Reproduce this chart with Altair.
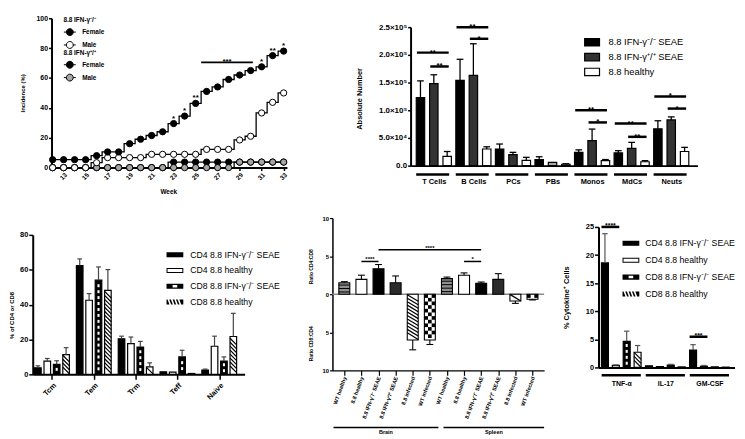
import json
import altair as alt
import pandas as pd

W, H = 737, 431
FONT = "Liberation Sans"

# ======================= DATA =======================
# --- panel a: incidence by week ---
weeks = [12, 13, 14, 15, 16, 17, 18, 19, 20, 21, 22, 23, 24, 25, 26, 27, 28, 29, 30, 31, 32, 33]
inc_female_ko = [5.3, 5.3, 5.3, 5.3, 8.0, 10.5, 10.5, 16.0, 19.0, 21.5, 24.0, 29.5, 34.5, 43.0, 51.0, 54.0, 59.0, 62.0, 65.0, 67.5, 75.0, 78.0]
inc_male_ko = [0, 0, 0, 0, 3.3, 6.7, 6.7, 6.7, 6.7, 8.9, 8.9, 8.9, 8.9, 8.9, 12.2, 12.2, 12.2, 18.5, 21.0, 36.6, 43.7, 50.0]
inc_female_wt = [0, 0, 0, 0, 0, 0, 0, 0, 0, 0, 0, 3.7, 3.7, 3.7, 3.7, 3.7, 3.7, 3.7, 3.7, 3.7, 3.7, 3.7]
inc_male_wt = [0, 0, 0, 0, 0, 0, 0, 0, 0, 0, 0, 0, 0, 0, 0, 0, 0, 3.7, 3.7, 3.7, 3.7, 3.7]
a_sexes = ["Female", "Male"]
a_star_weeks = [23, 24, 25, 31, 32, 33]
a_star_text = ["*", "*", "**", "*", "**", "*"]
a_bracket_weeks = [25.5, 30.2]
a_bracket_value = 70.4
a_bracket_text = "***"
a_week_ticks = [13, 15, 17, 19, 21, 23, 25, 27, 29, 31, 33]
a_pct_ticks = [0, 20, 40, 60, 80, 100]

# --- panel b: absolute numbers ---
b_groups = ["T Cells", "B Cells", "PCs", "PBs", "Monos", "MdCs", "Neuts"]
b_series = ["8.8 IFN-γ⁻/⁻ SEAE", "8.8 IFN-γ⁺/⁺ SEAE", "8.8 healthy"]
b_ko = [123000, 154000, 30000, 11000, 24000, 23000, 66500]
b_ko_upper = [153000, 192000, 39000, 16000, 28500, 27000, 81000]
b_wt = [148000, 163000, 20000, 6000, 45000, 31000, 82500]
b_wt_upper = [164000, 220000, 24000, 6000, 66000, 42000, 88000]
b_healthy = [16600, 30000, 9500, 2500, 9000, 7000, 25500]
b_healthy_upper = [25500, 34000, 15000, 3500, 11000, 9000, 33000]
b_yticks = [0, 50000, 100000, 150000, 200000, 250000]
b_ytick_labels = ["0.0", "5.0×10⁴", "1.0×10⁵", "1.5×10⁵", "2.0×10⁵", "2.5×10⁵"]
b_sig_group = [0, 0, 1, 1, 4, 4, 5, 5, 6, 6]
b_sig_from = [0, 1, 0, 1, 0, 1, 0, 1, 0, 1]
b_sig_to = [2, 2, 2, 2, 2, 2, 2, 2, 2, 2]
b_sig_value = [204000, 179000, 250000, 229000, 100000, 78000, 76000, 52000, 125000, 103000]
b_sig_text = ["**", "**", "**", "*", "**", "*", "**", "**", "*", "*"]

# --- panel c: memory subsets ---
c_groups = ["Tcm", "Tem", "Trm", "Teff", "Naive"]
c_series = ["CD4 8.8 IFN-γ⁻/⁻ SEAE", "CD4 8.8 healthy", "CD8 8.8 IFN-γ⁻/⁻ SEAE", "CD8 8.8 healthy"]
c_cd4_ko = [3.8, 62.4, 20.4, 1.5, 2.5]
c_cd4_ko_upper = [4.9, 66.2, 21.9, 1.5, 3.0]
c_cd4_healthy = [7.6, 42.5, 17.6, 1.3, 16.1]
c_cd4_healthy_upper = [9.1, 46.3, 21.4, 1.3, 21.9]
c_cd8_ko = [5.7, 54.0, 15.7, 10.0, 7.6]
c_cd8_ko_upper = [7.8, 61.6, 18.9, 13.8, 10.0]
c_cd8_healthy = [11.3, 48.2, 4.3, 0.5, 21.7]
c_cd8_healthy_upper = [15.3, 60.1, 6.6, 0.5, 35.0]
c_yticks = [0, 20, 40, 60, 80]

# --- panel d: CD4:CD8 ratios ---
d_conditions = ["WT healthy", "8.8 healthy", "8.8 IFN-γ⁻/⁻ SEAE", "8.8 IFN-γ⁺/⁺ SEAE", "8.8 infected", "WT infected"]
d_tissues = ["Brain", "Spleen"]
d_brain = [1.5, 1.95, 3.35, 1.5, -6.0, -6.0]
d_brain_end = [1.65, 2.5, 3.9, 2.4, -7.3, -6.6]
d_spleen = [2.05, 2.5, 1.45, 1.95, -0.9, -0.65]
d_spleen_end = [2.25, 2.8, 1.6, 2.7, -1.2, -0.75]
d_yticks = [-10, -5, 0, 5, 10]
d_sig_from = [2, 1, 7]
d_sig_to = [8, 2, 8]
d_sig_value = [5.84, 4.3, 4.3]
d_sig_text = ["****", "****", "*"]
d_axis_titles = ["Ratio CD4:CD8", "Ratio CD8:CD4"]
d_axis_title_y = [3.6, -6.5]

# --- panel e: cytokines ---
e_groups = ["TNF-α", "IL-17", "GM-CSF"]
e_cd4_ko = [18.6, 0.3, 3.1]
e_cd4_ko_upper = [23.8, 0.3, 4.05]
e_cd4_healthy = [0.35, 0.15, 0.2]
e_cd4_healthy_upper = [0.45, 0.15, 0.35]
e_cd8_ko = [4.65, 0.4, 0.1]
e_cd8_ko_upper = [6.45, 0.55, 0.1]
e_cd8_healthy = [2.7, 0.1, 0.05]
e_cd8_healthy_upper = [3.9, 0.1, 0.05]
e_yticks = [0, 5, 10, 15, 20, 25]
e_sig_group = [0, 2]
e_sig_from = [0, 0]
e_sig_to = [1, 1]
e_sig_value = [25.0, 5.46]
e_sig_text = ["****", "***"]

# ======================= HELPERS =======================
A_SYM = "M-1,0H-0.58A0.58,0.58,0,0,1,0.58,0H1M0.58,0A0.58,0.58,0,0,1,-0.58,0"
RECT_B = "M-1,-0.5H1V0.5H-1Z"
RECT_C = "M-2,-0.6H2V0.6H-2Z"
FRAME_C = RECT_C + "M-1.76,-0.36V0.36H1.76V-0.36Z"
HOLE_C = RECT_C + "M-0.55,-0.3V0.3H0.55V-0.3Z"
HATCH_C = RECT_C + "".join(
    f"M{a:.2f},-0.6L{a + 0.45:.2f},0.6L{a + 0.85:.2f},0.6L{a + 0.4:.2f},-0.6Z" for a in (-1.75, -0.95, -0.15, 0.65))
BACKSLASH = "M-1,-1L1,1"
BACKSLASH_FLAT = "M-1,-0.6L1,0.6"
HLINE = "M-1,0H1"
DASH = "M-0.7,-1H0.7V1H-0.7Z"


def lin(domain, rng):
    return alt.Scale(domain=domain, range=rng, nice=False, zero=False)


def mk(scale, axis, ch):
    def f(field):
        return ch(field=field, type="quantitative", scale=scale, axis=axis)
    return f


def ys_inside(a, b, ppu, step, margin):
    lo, hi = min(a, b), max(a, b)
    span = (hi - lo) * ppu - 2 * margin
    if span < 0:
        return []
    n = int(span // step) + 1
    first = lo + (margin + (span - (n - 1) * step) / 2) / ppu
    return [first + k * step / ppu for k in range(n)]


def grouped(n_groups, series, means, uppers, gstep, hw, cap):
    rows = []
    for g in range(n_groups):
        for i, s in enumerate(series):
            xc = g * gstep + i
            rows.append(dict(g=g, i=i, s=s, xc=xc, x0=xc - hw, x1=xc + hw,
                             c0=xc - cap, c1=xc + cap, v=means[i][g], e=uppers[i][g], b=0.0))
    return pd.DataFrame(rows)


def bar_layers(df, X, Y, color, stroke_w, err_color, err_w=1.2):
    bars = alt.Chart(df).mark_rect(stroke="black", strokeWidth=stroke_w).encode(
        x=X("x0"), x2=alt.X2("x1"), y=Y("b"), y2=alt.Y2("v"), color=color)
    ed = df[df.e != df.v]
    err = alt.Chart(ed).mark_rule(color=err_color, strokeWidth=err_w).encode(
        x=X("xc"), y=Y("v"), y2=alt.Y2("e"))
    cap = alt.Chart(ed).mark_rule(color=err_color, strokeWidth=err_w).encode(
        x=X("c0"), x2=alt.X2("c1"), y=Y("e"))
    return [bars, err, cap]


def pts_layer(rows, X, Y, **mark):
    return alt.Chart(pd.DataFrame(rows, columns=["px", "py"])).mark_point(opacity=1, **mark).encode(
        x=X("px"), y=Y("py"))


def sig_layers(df, X, Y, width, fsize, dy):
    line = alt.Chart(df).mark_rule(color="black", strokeWidth=width).encode(
        x=X("l0"), x2=alt.X2("l1"), y=Y("v"))
    txt = alt.Chart(df).mark_text(font=FONT, fontSize=fsize, fontWeight="bold", baseline="alphabetic",
                                  dy=dy, color="black").encode(x=X("m"), y=Y("v"), text="t:N")
    return [line, txt]


def pattern_legend(x, y, row_pad, label_off, fsize):
    leg = alt.Legend(orient="none", legendX=x, legendY=y, direction="vertical", title=None,
                     labelFont=FONT, labelFontSize=fsize, labelFontWeight="normal", labelColor="black",
                     symbolSize=72, symbolStrokeColor="black", symbolStrokeWidth=0,
                     rowPadding=row_pad, labelOffset=label_off, padding=0)
    return alt.Chart(alt.Data(values=[])).mark_point(filled=True, opacity=1, size=72, strokeWidth=0).encode(
        fill=alt.Fill("s:N", scale=alt.Scale(domain=c_series, range=["black", "black", "black", "black"]),
                      legend=leg),
        shape=alt.Shape("s:N", scale=alt.Scale(domain=c_series, range=[RECT_C, FRAME_C, HOLE_C, HATCH_C]),
                        legend=leg))


# ======================= PANEL A =======================
a_xs = lin([11.9, 33.3], [44, 282])
a_ys = lin([0, 100], [159, 8])
a_xax = alt.Axis(orient="bottom", offset=159 - H, values=a_week_ticks, labelAngle=-45, labelFontSize=6.5,
                 tickSize=3, tickWidth=1.5, domainWidth=2, labelPadding=1, title="Week", titleFontSize=6.5,
                 titleX=162, titleY=24, titleBaseline="middle", titleAlign="center")
a_yax = alt.Axis(orient="left", offset=-44, values=a_pct_ticks, labelFontSize=7, tickSize=3, tickWidth=1.5,
                 domainWidth=2, labelPadding=1, title="Incidence (%)", titleFontSize=6, titleX=-29, titleY=83.5,
                 titleBaseline="middle", titleAlign="center", titleAngle=270)
aX = mk(a_xs, a_xax, alt.X)
aY = mk(a_ys, a_yax, alt.Y)

series_a = [("fwt", inc_female_wt, "black"), ("mwt", inc_male_wt, "#a6a6a6"),
            ("mko", inc_male_ko, "white"), ("fko", inc_female_ko, "black")]
inc = pd.DataFrame([dict(week=w, v=v, s=name) for name, vals, _ in series_a for w, v in zip(weeks, vals)])
a_layers = [alt.Chart(inc).mark_line(interpolate="step", color="black", strokeWidth=1.3).encode(
    x=aX("week"), y=aY("v"), detail="s:N")]
for name, vals, col in series_a:
    a_layers.append(alt.Chart(inc[inc.s == name]).mark_point(
        shape="circle", filled=True, fill=col, stroke="black", strokeWidth=1, size=40, opacity=1).encode(
        x=aX("week"), y=aY("v")))
a_st = pd.DataFrame(dict(week=a_star_weeks, v=[inc_female_ko[weeks.index(w)] for w in a_star_weeks], t=a_star_text))
a_layers.append(alt.Chart(a_st).mark_text(font=FONT, fontSize=8, fontWeight="bold", baseline="alphabetic", dy=-3,
                                          color="black").encode(x=aX("week"), y=aY("v"), text="t:N"))
a_br = pd.DataFrame(dict(l0=[a_bracket_weeks[0]], l1=[a_bracket_weeks[1]], m=[sum(a_bracket_weeks) / 2],
                         v=[a_bracket_value], t=[a_bracket_text]))
a_layers += sig_layers(a_br, aX, aY, 1.8, 8, 2)


def a_legend(title, y, colors):
    leg = alt.Legend(orient="none", legendX=56, legendY=y, direction="vertical", title=title, titleFont=FONT,
                     titleFontSize=6.5, titleFontWeight="bold", titlePadding=2, titleColor="black",
                     labelFont=FONT, labelFontSize=6.5, labelFontWeight="bold", labelColor="black",
                     symbolType=A_SYM, symbolSize=144, symbolStrokeColor="black", symbolStrokeWidth=1,
                     rowPadding=1, labelOffset=6, padding=0)
    return alt.Chart(alt.Data(values=[])).mark_point(filled=True, opacity=1, stroke="black", strokeWidth=1,
                                                    size=144).encode(
        fill=alt.Fill("k:N", scale=alt.Scale(domain=a_sexes, range=colors), legend=leg))


a_layers.append(a_legend("8.8 IFN-γ⁻/⁻", 7, ["black", "white"]))
a_layers.append(a_legend("8.8 IFN-γ⁺/⁺", 40, ["black", "#a6a6a6"]))
panel_a = alt.layer(*a_layers).resolve_scale(fill="independent")

# ======================= PANEL B =======================
B_GSTEP, B_HW = 2.963, 0.315
b_xs = lin([-0.74, 20.74], [407, 697])
b_ys = lin([0, 250000], [157, 17])
b_xax = alt.Axis(orient="bottom", offset=157 - H, values=[g * B_GSTEP + 1 for g in range(len(b_groups))],
                 labelExpr=json.dumps(b_groups, ensure_ascii=False) + f"[round((datum.value - 1) / {B_GSTEP})]",
                 ticks=False, tickSize=0, labelPadding=12, labelFontSize=7.5, domainWidth=2, title=None)
b_yax = alt.Axis(orient="left", offset=-407, values=b_yticks,
                 labelExpr=json.dumps(b_ytick_labels, ensure_ascii=False) + "[round(datum.value / 50000)]",
                 labelFontSize=8, tickSize=3, tickWidth=1.5, domainWidth=2, labelPadding=1,
                 title="Absolute Number", titleFontSize=7.5, titleX=-52, titleY=89, titleBaseline="middle",
                 titleAlign="center", titleAngle=270)
bX = mk(b_xs, b_xax, alt.X)
bY = mk(b_ys, b_yax, alt.Y)
b_df = grouped(len(b_groups), b_series, [b_ko, b_wt, b_healthy], [b_ko_upper, b_wt_upper, b_healthy_upper],
               B_GSTEP, B_HW, 0.25)
b_color = alt.condition("datum.g == 3 && datum.i == 1", alt.value("#a9a9a9"),
                        alt.Color("s:N", scale=alt.Scale(domain=b_series, range=["black", "#333333", "white"]),
                                  legend=None))
b_layers = bar_layers(b_df, bX, bY, b_color, 1.2, "black", 1.3)
b_under = pd.DataFrame(dict(l0=[g * B_GSTEP - 0.32 for g in range(len(b_groups))],
                            l1=[g * B_GSTEP + 2.15 for g in range(len(b_groups))], v=-16200.0))
b_layers.append(alt.Chart(b_under).mark_rule(color="black", strokeWidth=2.5).encode(
    x=bX("l0"), x2=alt.X2("l1"), y=bY("v")))
b_sig = pd.DataFrame(dict(l0=[g * B_GSTEP + f - B_HW + 0.05 for g, f in zip(b_sig_group, b_sig_from)],
                          l1=[g * B_GSTEP + t + B_HW - 0.2 for g, t in zip(b_sig_group, b_sig_to)],
                          v=b_sig_value, t=b_sig_text))
b_sig["m"] = (b_sig.l0 + b_sig.l1) / 2
b_layers += sig_layers(b_sig, bX, bY, 2.5, 8, 2)
b_leg = alt.Legend(orient="none", legendX=582, legendY=23.8, direction="vertical", title=None, labelFont=FONT,
                   labelFontSize=9.5, labelFontWeight="normal", labelColor="black", symbolType=RECT_B,
                   symbolSize=225, symbolStrokeColor="black", symbolStrokeWidth=1.2, rowPadding=-0.5,
                   labelOffset=8, padding=0)
b_layers.append(alt.Chart(alt.Data(values=[])).mark_point(filled=True, opacity=1, stroke="black",
                                                          strokeWidth=1.2, size=225).encode(
    fill=alt.Fill("f:N", scale=alt.Scale(domain=b_series, range=["black", "#333333", "white"]), legend=b_leg)))
panel_b = alt.layer(*b_layers).resolve_scale(fill="independent")

# ======================= PANEL C =======================
C_GSTEP, C_HW = 4.45, 0.35
c_xs = lin([-0.55, 22.0], [25, 239.2])
c_ys = lin([0, 80], [368, 227])
C_YPPU = (368 - 227) / 80
C_XPPU = (239.2 - 25) / 22.55
c_xax = alt.Axis(orient="bottom", offset=368 - H, values=[g * C_GSTEP + 1.5 for g in range(len(c_groups))],
                 labelExpr=json.dumps(c_groups) + f"[round((datum.value - 1.5) / {C_GSTEP})]",
                 labelAngle=-45, tickSize=5, tickWidth=1.5, domainWidth=2, labelFontSize=7.5, labelPadding=2,
                 title=None)
c_yax = alt.Axis(orient="left", offset=-25, values=c_yticks, labelFontSize=7.5, tickSize=4, tickWidth=1.5,
                 domainWidth=2, labelPadding=1, title="% of CD4 or CD8", titleFontSize=6, titleX=-21.5,
                 titleY=308, titleBaseline="middle", titleAlign="center", titleAngle=270)
cX = mk(c_xs, c_xax, alt.X)
cY = mk(c_ys, c_yax, alt.Y)
c_df = grouped(len(c_groups), c_series, [c_cd4_ko, c_cd4_healthy, c_cd8_ko, c_cd8_healthy],
               [c_cd4_ko_upper, c_cd4_healthy_upper, c_cd8_ko_upper, c_cd8_healthy_upper], C_GSTEP, C_HW, 0.25)
c_color = alt.Color("s:N", scale=alt.Scale(domain=c_series, range=["black", "white", "black", "white"]),
                    legend=None)
c_layers = bar_layers(c_df, cX, cY, c_color, 1.2, "#444444")
hw_px = C_HW * C_XPPU
c_dash = [(r.xc, y) for r in c_df[c_df.i == 2].itertuples() for y in ys_inside(0, r.v, C_YPPU, 6, 3)]
c_hatch = [(r.xc, y) for r in c_df[c_df.i == 3].itertuples() for y in ys_inside(0, r.v, C_YPPU, 4, hw_px)]
c_layers.insert(1, pts_layer(c_dash, cX, cY, shape=DASH, filled=True, fill="white", strokeWidth=0, size=9))
c_layers.insert(1, pts_layer(c_hatch, cX, cY, shape=BACKSLASH, filled=False, stroke="black", strokeWidth=1.2,
                             size=4 * hw_px ** 2))
c_layers.append(pattern_legend(164.25, 242.6, 5.9, 11, 8.8))
panel_c = alt.layer(*c_layers).resolve_scale(fill="independent", shape="independent")

# ======================= PANEL D =======================
D_HW = 0.32
d_xs = lin([-0.694, 11.68], [328, 542])
d_ys = lin([-10, 10], [364, 210])
D_YPPU = 154 / 20
D_XPPU = 214 / 12.374
d_labels = d_conditions + d_conditions
d_xax = alt.Axis(orient="bottom", offset=364 - H, values=list(range(12)),
                 labelExpr=json.dumps(d_labels, ensure_ascii=False) + "[round(datum.value)]",
                 labelAngle=-70, tickSize=5, tickWidth=1.2, domainWidth=1.5, labelFontSize=5.5, labelPadding=1,
                 title=None)
d_yax = alt.Axis(orient="left", offset=-328, values=d_yticks, labelExpr="abs(datum.value)", labelFontSize=6,
                 tickSize=3, tickWidth=1.2, domainWidth=1.5, labelPadding=1, title=None)
dX = mk(d_xs, d_xax, alt.X)
dY = mk(d_ys, d_yax, alt.Y)
d_rows = []
for t, (means, ends) in enumerate([(d_brain, d_brain_end), (d_spleen, d_spleen_end)]):
    for i, cond in enumerate(d_conditions):
        k = t * 6 + i
        d_rows.append(dict(i=i, s=cond, xc=k, x0=k - D_HW, x1=k + D_HW, c0=k - 0.2, c1=k + 0.2,
                           v=means[i], e=ends[i], b=0.0))
d_df = pd.DataFrame(d_rows)
d_zero = pd.DataFrame(dict(l0=[-0.694], l1=[11.68], v=[0.0]))
d_layers = [alt.Chart(d_zero).mark_rule(color="#8a8a8a", strokeWidth=1.5).encode(
    x=dX("l0"), x2=alt.X2("l1"), y=dY("v"))]
d_color = alt.Color("s:N", scale=alt.Scale(domain=d_conditions,
                                           range=["#8f8f8f", "white", "black", "#2b2b2b", "white", "white"]),
                    legend=None)
d_layers += bar_layers(d_df, dX, dY, d_color, 1.1, "black", 1.1)
dhw_px = D_HW * D_XPPU
d_hl = [(r.xc, y) for r in d_df[d_df.i == 0].itertuples() for y in ys_inside(0, r.v, D_YPPU, 3.5, 1.5)]
d_hatch = [(r.xc, y) for r in d_df[d_df.i == 4].itertuples() for y in ys_inside(0, r.v, D_YPPU, 3.5, 3.4)]
cell = 2 * dhw_px / 3
d_check = []
for r in d_df[d_df.i == 5].itertuples():
    nrow = int(abs(r.v) * D_YPPU // cell)
    for kk in range(nrow):
        for j in range(3):
            if (j + kk) % 2 == 0:
                d_check.append((r.xc + (j - 1) * 2 * D_HW / 3, -(kk + 0.5) * cell / D_YPPU))
d_layers.insert(2, pts_layer(d_hl, dX, dY, shape=HLINE, filled=False, stroke="black", strokeWidth=1,
                             size=4 * dhw_px ** 2))
d_layers.insert(2, pts_layer(d_hatch, dX, dY, shape=BACKSLASH_FLAT, filled=False, stroke="black",
                             strokeWidth=1.2, size=4 * dhw_px ** 2))
d_layers.insert(2, pts_layer(d_check, dX, dY, shape="square", filled=True, fill="black", strokeWidth=0,
                             size=cell ** 2))
d_sig = pd.DataFrame(dict(l0=d_sig_from, l1=d_sig_to, v=d_sig_value, t=d_sig_text))
d_sig["m"] = (d_sig.l0 + d_sig.l1) / 2
d_layers += sig_layers(d_sig, dX, dY, 1.5, 6, 0)
d_reg = pd.DataFrame(dict(l0=[-0.63, 5.8], l1=[5.5, 11.68], v=[-17.5, -17.5], t=d_tissues))
d_reg["m"] = (d_reg.l0 + d_reg.l1) / 2
d_layers.append(alt.Chart(d_reg).mark_rule(color="black", strokeWidth=1.5).encode(
    x=dX("l0"), x2=alt.X2("l1"), y=dY("v")))
d_layers.append(alt.Chart(d_reg).mark_text(font=FONT, fontSize=5.5, fontWeight="bold", baseline="top", dy=3,
                                           color="black").encode(x=dX("m"), y=dY("v"), text="t:N"))
d_tt = pd.DataFrame(dict(px=[-1.92, -1.92], py=d_axis_title_y, t=d_axis_titles))
d_layers.append(alt.Chart(d_tt).mark_text(font=FONT, fontSize=5, fontWeight="bold", angle=270, baseline="middle",
                                          color="black").encode(x=dX("px"), y=dY("py"), text="t:N"))
panel_d = alt.layer(*d_layers)

# ======================= PANEL E =======================
E_GSTEP, E_HW = 4.05, 0.32
e_xs = lin([-0.59, 11.91], [597, 734.5])
e_ys = lin([0, 25], [361, 219])
E_YPPU = 142 / 25
E_XPPU = 11.0
e_xax = alt.Axis(orient="bottom", offset=361 - H, values=[g * E_GSTEP + 1.5 for g in range(len(e_groups))],
                 labelExpr=json.dumps(e_groups, ensure_ascii=False) + f"[round((datum.value - 1.5) / {E_GSTEP})]",
                 ticks=False, tickSize=0, labelPadding=12, labelFontSize=7, domainWidth=2, title=None)
e_yax = alt.Axis(orient="left", offset=-597, values=e_yticks, labelFontSize=7.5, tickSize=4, tickWidth=1.5,
                 domainWidth=2, labelPadding=1, title="% Cytokine⁺ Cells", titleFontSize=7.5, titleX=-32,
                 titleY=290, titleBaseline="middle", titleAlign="center", titleAngle=270)
eX = mk(e_xs, e_xax, alt.X)
eY = mk(e_ys, e_yax, alt.Y)
e_df = grouped(len(e_groups), c_series, [e_cd4_ko, e_cd4_healthy, e_cd8_ko, e_cd8_healthy],
               [e_cd4_ko_upper, e_cd4_healthy_upper, e_cd8_ko_upper, e_cd8_healthy_upper], E_GSTEP, E_HW, 0.25)
e_color = alt.Color("s:N", scale=alt.Scale(domain=c_series, range=["black", "white", "black", "white"]),
                    legend=None)
e_layers = bar_layers(e_df, eX, eY, e_color, 1.2, "#555555")
ehw_px = E_HW * E_XPPU
e_dash = [(r.xc, y) for r in e_df[e_df.i == 2].itertuples() for y in ys_inside(0, r.v, E_YPPU, 6, 3)]
e_hatch = [(r.xc, y) for r in e_df[e_df.i == 3].itertuples() for y in ys_inside(0, r.v, E_YPPU, 4, ehw_px)]
e_layers.insert(1, pts_layer(e_dash, eX, eY, shape=DASH, filled=True, fill="white", strokeWidth=0, size=9))
e_layers.insert(1, pts_layer(e_hatch, eX, eY, shape=BACKSLASH, filled=False, stroke="black", strokeWidth=1.2,
                             size=4 * ehw_px ** 2))
e_under = pd.DataFrame(dict(l0=[g * E_GSTEP - 0.3 for g in range(len(e_groups))],
                            l1=[g * E_GSTEP + 3.3 for g in range(len(e_groups))], v=-1.41))
e_layers.append(alt.Chart(e_under).mark_rule(color="black", strokeWidth=2.5).encode(
    x=eX("l0"), x2=alt.X2("l1"), y=eY("v")))
e_sig = pd.DataFrame(dict(l0=[g * E_GSTEP + f - E_HW for g, f in zip(e_sig_group, e_sig_from)],
                          l1=[g * E_GSTEP + t + E_HW for g, t in zip(e_sig_group, e_sig_to)],
                          v=e_sig_value, t=e_sig_text))
e_sig["m"] = (e_sig.l0 + e_sig.l1) / 2
e_layers += sig_layers(e_sig, eX, eY, 2.5, 7, 1)
e_layers.append(pattern_legend(625.25, 231, 7.1, 10, 8.8))
panel_e = alt.layer(*e_layers).resolve_scale(fill="independent", shape="independent")

# ======================= COMPOSE =======================
chart = alt.layer(panel_a, panel_b, panel_c, panel_d, panel_e).resolve_scale(
    x="independent", y="independent", color="independent", fill="independent", shape="independent"
).properties(
    width=W, height=H, padding=0, autosize=alt.AutoSizeParams(type="none")
).configure_view(stroke=None).configure_axis(
    grid=False, labelFont=FONT, titleFont=FONT, labelFontWeight="bold", titleFontWeight="bold",
    labelColor="black", titleColor="black", domainColor="black", tickColor="black",
    labelOverlap=False, labelFlush=False
).configure_legend(labelColor="black", titleColor="black")

chart.save("out.html", embed_options={"renderer": "svg", "actions": False})
